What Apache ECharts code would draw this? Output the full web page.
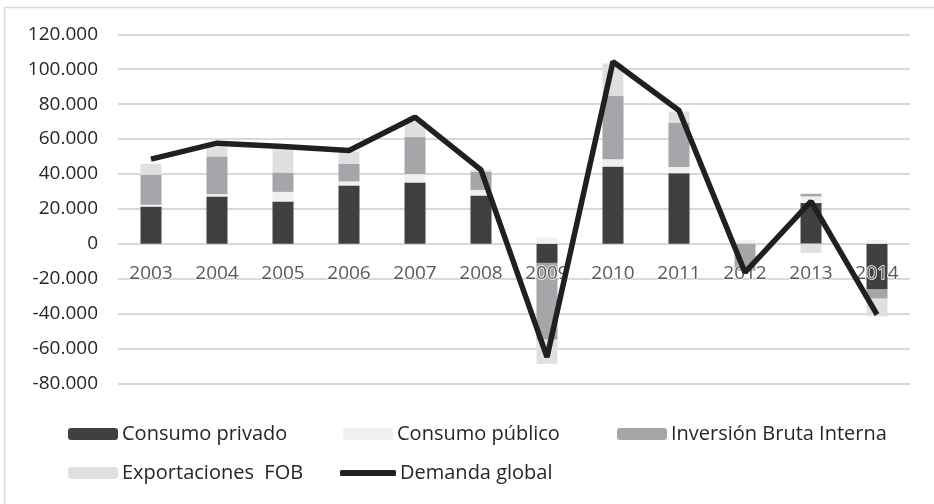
<!DOCTYPE html>
<html>
<head>
<meta charset="utf-8">
<script src="https://cdn.jsdelivr.net/npm/echarts@6/dist/echarts.min.js"></script>
<style>
html,body{margin:0;padding:0;background:#fff;}
#c{width:934px;height:504px;}
</style>
</head>
<body>
<div id="c"></div>
<script>
const categories = ['2003','2004','2005','2006','2007','2008','2009','2010','2011','2012','2013','2014'];
const consumoPrivado = [21300, 27100, 24200, 33400, 35100, 27600, -11000, 44200, 40400, 0, 23300, -26300];
const consumoPublico = [1000, 1300, 5500, 2300, 4800, 3200, 3600, 4200, 3600, 2300, 3800, 2300];
const inversion = [17200, 21600, 11100, 10100, 21200, 10500, -44000, 36200, 25400, -15500, 1500, -5200];
const exportaciones = [6300, 5700, 13900, 7100, 9900, 1000, -13800, 18700, 6300, 0, -5300, -10100];
const demandaGlobal = [48500, 57600, 55700, 53400, 72500, 42300, -65000, 104300, 76300, -16500, 24200, -40600];
const yTicks = { min: -80000, max: 120000, interval: 20000 };

const fmt = v => {
  const s = Math.abs(v).toString().replace(/\B(?=(\d{3})+(?!\d))/g, '.');
  return (v < 0 ? '-' : '') + s;
};

const chart = echarts.init(document.getElementById('c'), null, {renderer: 'canvas'});
const FONT = 'Open Sans';
const legendBase = (name, left, top, extra) => Object.assign({
  data: [name], left: left, top: top, itemWidth: 50, itemHeight: 12, itemGap: 0, padding: 0,
  textStyle: {fontFamily: FONT, fontSize: 20, color: '#262626', padding: [0,0,0,-1]},
  selectedMode: false
}, extra || {});

// plot area geometry
const gridTop = 34.3, gridBottom = 120.7, chartH = 504;
const plotH = chartH - gridTop - gridBottom;
const zeroOffset = -plotH * (0 - yTicks.min) / (yTicks.max - yTicks.min);

chart.setOption({
  animation: false,
  backgroundColor: '#fff',
  graphic: [{
    type: 'rect', shape: {x: 4.5, y: 7.5, width: 940, height: 520},
    style: {fill: 'none', stroke: '#d9d9d9', lineWidth: 1.5}, silent: true
  }],
  legend: [
    legendBase('Consumo privado', 68, 424),
    legendBase('Consumo público', 343, 424),
    legendBase('Inversión Bruta Interna', 617, 424),
    legendBase('Exportaciones  FOB', 68, 463),
    legendBase('Demanda global', 340, 463, {icon: 'roundRect', itemWidth: 56, itemHeight: 6, itemStyle: {color: '#231f20'}})
  ],
  grid: {left: 118, right: 24, top: gridTop, bottom: gridBottom, containLabel: false},
  xAxis: {
    type: 'category', data: categories, z: 3, offset: zeroOffset,
    axisLine: {show: false, onZero: false},
    axisTick: {show: false},
    axisLabel: {fontFamily: FONT, fontSize: 19, color: '#595959', margin: 20,
      textBorderColor: '#fff', textBorderWidth: 1.5}
  },
  yAxis: {
    type: 'value', min: yTicks.min, max: yTicks.max, interval: yTicks.interval,
    axisLine: {show: false}, axisTick: {show: false},
    splitLine: {lineStyle: {color: '#d9d9d9', width: 2}},
    axisLabel: {fontFamily: FONT, fontSize: 19, color: '#262626', margin: 20, formatter: fmt}
  },
  series: [
    {name: 'Consumo privado', type: 'bar', stack: 'a', barWidth: 21, data: consumoPrivado, itemStyle: {color: '#404040'}},
    {name: 'Consumo público', type: 'bar', stack: 'a', barWidth: 21, data: consumoPublico, itemStyle: {color: '#f0f0f0'}},
    {name: 'Inversión Bruta Interna', type: 'bar', stack: 'a', barWidth: 21, data: inversion, itemStyle: {color: '#a5a6a9'}},
    {name: 'Exportaciones  FOB', type: 'bar', stack: 'a', barWidth: 21, data: exportaciones, itemStyle: {color: '#dfe0e2'}},
    {name: 'Demanda global', type: 'line', data: demandaGlobal, symbol: 'none', z: 5,
      lineStyle: {color: '#231f20', width: 5.5}, itemStyle: {color: '#231f20'}}
  ]
});
</script>
</body>
</html>
